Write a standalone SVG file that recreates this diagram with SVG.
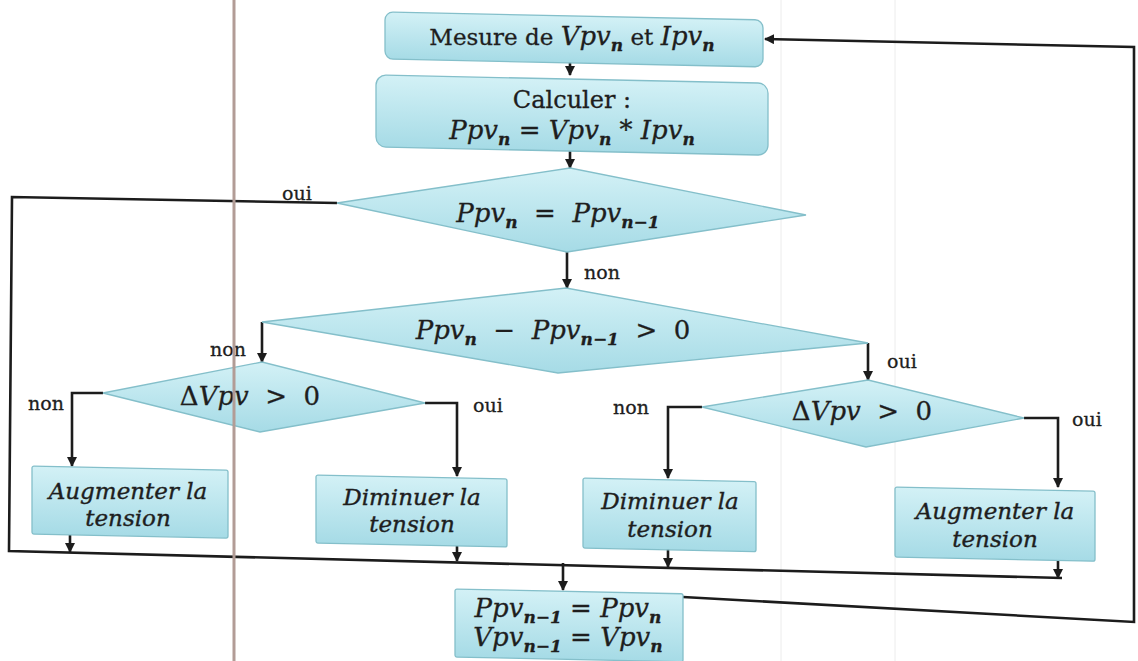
<svg xmlns="http://www.w3.org/2000/svg" width="1138" height="661" viewBox="0 0 1138 661">
<defs>
<linearGradient id="g" x1="0" y1="0" x2="0" y2="1">
<stop offset="0" stop-color="#d3f1f6"/>
<stop offset="1" stop-color="#a6dbe6"/>
</linearGradient>
<marker id="ah" viewBox="0 0 10 10" refX="9" refY="5" markerWidth="10" markerHeight="10" markerUnits="userSpaceOnUse" orient="auto">
<path d="M0,0 L10,5 L0,10 z" fill="#1c1c1c"/>
</marker>
<style>
.box{fill:url(#g);stroke:#84bfca;stroke-width:1.3}
.dia{fill:url(#g);stroke:#84bfca;stroke-width:1.3}
.c{fill:none;stroke:#1c1c1c;stroke-width:2.6;stroke-linejoin:miter}
.a{marker-end:url(#ah)}
.t{font-family:"DejaVu Serif","Liberation Serif",serif;font-size:23px;fill:#1e1e1e;text-anchor:middle;stroke:#1e1e1e;stroke-width:0.3}
.m{font-family:"DejaVu Serif","Liberation Serif",serif;font-style:italic;font-size:26px;fill:#1e1e1e;text-anchor:middle;stroke:#1e1e1e;stroke-width:0.3}
.s{font-size:17px;font-weight:bold}
.p{font-family:"DejaVu Serif","Liberation Serif",serif;font-style:italic;font-size:23px;fill:#1e1e1e;text-anchor:middle;stroke:#1e1e1e;stroke-width:0.4}
.l{font-family:"DejaVu Serif","Liberation Serif",serif;font-size:19px;fill:#1e1e1e;text-anchor:middle;stroke:#1e1e1e;stroke-width:0.3}
.scan{stroke:#b29c96;stroke-width:3}
.faint{stroke:#ececec;stroke-width:1}
</style>
</defs>
<rect width="1138" height="661" fill="#ffffff"/>
<line class="faint" x1="781" y1="0" x2="781" y2="661"/>
<line class="faint" x1="895" y1="0" x2="895" y2="661"/>

<g id="connectors">
<polyline class="c a" points="570,60 570,75"/>
<polyline class="c a" points="570,148 570,168"/>
<polyline class="c a" points="567,252 567,288"/>
<polyline class="c a" points="262,322 262,362"/>
<polyline class="c a" points="868,343 868,380"/>
<polyline class="c a" points="103,393 72,393 72,466"/>
<polyline class="c a" points="425,403 457,403 457,476"/>
<polyline class="c a" points="702,407 668,407 668,478"/>
<polyline class="c a" points="1024,418 1058,418 1058,487"/>
<polyline class="c" points="337,203 12,197 9,551 1062,578"/>
<polyline class="c a" points="70,535 70,552"/>
<polyline class="c a" points="457,544 457,561"/>
<polyline class="c a" points="668,549 668,567"/>
<polyline class="c a" points="1058,558 1058,578"/>
<polyline class="c a" points="563,563 563,590"/>
<polyline class="c a" points="683,597 1134,622 1134,47 765,39"/>
</g>

<g id="n1">
<g transform="translate(385,12) skewY(1.2)"><rect class="box" x="0" y="0" width="378" height="47" rx="8"/></g>
<text class="t" x="572" y="45">Mesure de <tspan class="m">Vpv</tspan><tspan class="m s" dy="6">n</tspan><tspan dy="-6"> et </tspan><tspan class="m">Ipv</tspan><tspan class="m s" dy="6">n</tspan></text>
</g>

<g id="n2">
<g transform="translate(376,75) skewY(1.2)"><rect class="box" x="0" y="0" width="392" height="72" rx="10"/></g>
<text class="t" x="572" y="108" style="font-size:24px">Calculer :</text>
<text class="m" x="572" y="139">Ppv<tspan class="s" dy="6">n</tspan><tspan dy="-6" font-style="normal">  =  </tspan>Vpv<tspan class="s" dy="6">n</tspan><tspan dy="-6" font-style="normal">  *  </tspan>Ipv<tspan class="s" dy="6">n</tspan></text>
</g>

<g id="d1">
<polygon class="dia" points="337,203 570,168 806,215 567,252"/>
<text class="m" x="558" y="222" xml:space="preserve">Ppv<tspan class="s" dy="6">n</tspan><tspan dy="-6" font-style="normal">  =  </tspan>Ppv<tspan class="s" dy="6">n−1</tspan></text>
<text class="l" x="297" y="200">oui</text>
<text class="l" x="602" y="279">non</text>
</g>

<g id="d2">
<polygon class="dia" points="262,322 566,288 868,343 558,373"/>
<text class="m" x="553" y="339" xml:space="preserve">Ppv<tspan class="s" dy="6">n</tspan><tspan dy="-6" font-style="normal">  −  </tspan>Ppv<tspan class="s" dy="6">n−1</tspan><tspan dy="-6" font-style="normal">  &gt;  0</tspan></text>
<text class="l" x="228" y="356">non</text>
<text class="l" x="902" y="368">oui</text>
</g>

<g id="d3">
<polygon class="dia" points="103,393 262,362 425,403 260,432"/>
<text class="m" x="250" y="405" xml:space="preserve"><tspan font-style="normal">Δ</tspan>Vpv<tspan font-style="normal">  &gt;  0</tspan></text>
<text class="l" x="46" y="410">non</text>
<text class="l" x="488" y="412">oui</text>
</g>

<g id="d4">
<polygon class="dia" points="702,407 868,380 1024,418 866,447"/>
<text class="m" x="862" y="420" xml:space="preserve"><tspan font-style="normal">Δ</tspan>Vpv<tspan font-style="normal">  &gt;  0</tspan></text>
<text class="l" x="631" y="414">non</text>
<text class="l" x="1087" y="426">oui</text>
</g>

<g id="a1">
<g transform="translate(32,466) skewY(1.2)"><rect class="box" x="0" y="0" width="196" height="68" rx="2"/></g>
<text class="p" x="128" y="499">Augmenter la</text>
<text class="p" x="128" y="526">tension</text>
</g>

<g id="dm1">
<g transform="translate(316,475) skewY(1.2)"><rect class="box" x="0" y="0" width="191" height="68" rx="2"/></g>
<text class="p" x="412" y="505">Diminuer la</text>
<text class="p" x="412" y="532">tension</text>
</g>

<g id="dm2">
<g transform="translate(583,478) skewY(1.2)"><rect class="box" x="0" y="0" width="173" height="70" rx="2"/></g>
<text class="p" x="670" y="509">Diminuer la</text>
<text class="p" x="670" y="537">tension</text>
</g>

<g id="a2">
<g transform="translate(895,487) skewY(1.2)"><rect class="box" x="0" y="0" width="200" height="70" rx="2"/></g>
<text class="p" x="995" y="519">Augmenter la</text>
<text class="p" x="995" y="547">tension</text>
</g>

<g id="fin">
<g transform="translate(455,589) skewY(1.2)"><rect class="box" x="0" y="0" width="228" height="68" rx="2"/></g>
<text class="m" x="568" y="617" xml:space="preserve">Ppv<tspan class="s" dy="6">n−1</tspan><tspan dy="-6" font-style="normal"> = </tspan>Ppv<tspan class="s" dy="6">n</tspan></text>
<text class="m" x="568" y="646" xml:space="preserve">Vpv<tspan class="s" dy="6">n−1</tspan><tspan dy="-6" font-style="normal"> = </tspan>Vpv<tspan class="s" dy="6">n</tspan></text>
</g>

<line class="scan" x1="234" y1="0" x2="234" y2="661"/>
</svg>
